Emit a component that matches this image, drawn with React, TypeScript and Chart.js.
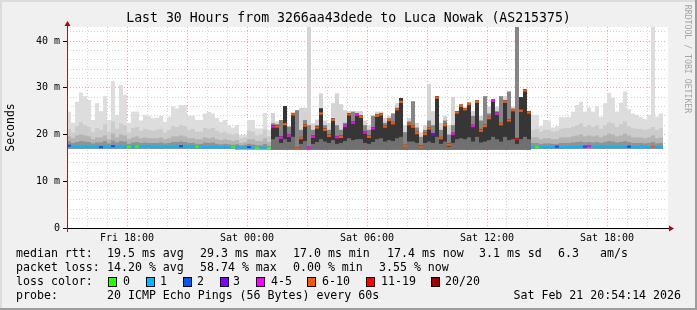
import { useEffect, useRef } from 'react';
import { Chart, registerables } from 'chart.js';

Chart.register(...registerables);

const TITLE = 'Last 30 Hours from 3266aa43dede to Luca Nowak (AS215375)';
const Y_TITLE = 'Seconds';
const WATERMARK = 'RRDTOOL / TOBI OETIKER';

// 12-minute steps, first step starts Fri 15:00
const BIN_HOURS = 0.2;
const X_MAX_HOURS = 30;
const Y_MAX_MS = 43;

const xTickHours = [3, 9, 15, 21, 27];
const xTickLabels = ['Fri 18:00', 'Sat 00:00', 'Sat 06:00', 'Sat 12:00', 'Sat 18:00'];
const yTickValues = [0, 10, 20, 30, 40];
const yTickLabels = ['0', '10 m', '20 m', '30 m', '40 m'];

const medianMs = [
  17.6, 17.4, 17.4, 17.4, 17.4, 17.4, 17.4, 17.4, 17.3, 17.4,
  17.4, 17.5, 17.4, 17.4, 17.4, 17.3, 17.4, 17.4, 17.4, 17.4,
  17.5, 17.4, 17.4, 17.4, 17.4, 17.4, 17.4, 17.4, 17.5, 17.4,
  17.4, 17.4, 17.4, 17.4, 17.3, 17.3, 17.4, 17.3, 17.3, 17.3,
  17.3, 17.3, 17.2, 17.2, 17.2, 17.3, 17.1, 17.1, 17.1, 17.1,
  17.1,
  21.7, 21.7, 19.3, 22.2, 19.7, 24.3, 17.0, 19.2, 21.9, 17.1,
  19.5, 21.5, 24.5, 21.0, 19.7, 23.1, 19.4, 19.5, 21.8, 24.3,
  22.5, 24.2, 23.8, 20.4, 19.5, 21.3, 24.0, 24.3, 21.7, 23.1,
  22.4, 25.4, 27.0, 17.5, 22.2, 21.7, 20.3, 17.4, 20.1, 21.3,
  20.0, 27.9, 19.2, 22.0, 17.8, 20.1, 24.7, 26.1, 25.4, 26.5,
  21.8, 27.0, 20.8, 21.8, 23.5, 27.2, 24.4, 22.2, 27.0, 23.0,
  25.2, 19.0, 25.1, 29.4, 24.7,
  17.3, 17.3, 17.3, 17.3, 17.3, 17.3, 17.4, 17.3, 17.3, 17.3,
  17.3, 17.4, 17.4, 17.4, 17.5, 17.4, 17.4, 17.4, 17.4, 17.4,
  17.4, 17.4, 17.4, 17.4, 17.4, 17.3, 17.3, 17.4, 17.3, 17.3,
  17.4, 17.3, 17.3,
];

const lossCount = [
  2, 1, 1, 1, 1, 1, 1, 1, 2, 1,
  1, 2, 1, 1, 1, 0, 1, 0, 1, 1,
  1, 1, 1, 1, 1, 1, 1, 1, 2, 1,
  1, 1, 0, 1, 1, 1, 1, 1, 1, 1,
  1, 0, 1, 1, 1, 2, 1, 0, 1, 1,
  0,
  4, 8, 4, 8, 4, 8, 8, 8, 8, 4,
  4, 8, 8, 8, 8, 8, 4, 8, 4, 8,
  4, 4, 8, 4, 8, 4, 8, 8, 8, 8,
  8, 8, 8, 8, 8, 8, 8, 8, 8, 8,
  3, 8, 8, 8, 8, 4, 8, 8, 8, 8,
  4, 8, 8, 8, 8, 4, 4, 8, 8, 8,
  8, 12, 8, 8, 8,
  1, 0, 1, 1, 1, 1, 2, 1, 1, 1,
  1, 1, 1, 2, 4, 1, 1, 1, 1, 1,
  1, 1, 1, 1, 2, 1, 1, 1, 1, 1,
  8, 1, 1,
];

const maxMs = [
  24.9, 22.5, 27.0, 29.0, 28.2, 27.4, 23.1, 26.7, 25.0, 28.2,
  23.1, 31.4, 24.2, 30.6, 28.5, 22.5, 24.9, 24.9, 23.0, 24.2,
  24.0, 23.5, 23.6, 24.0, 22.7, 23.8, 26.0, 25.6, 26.3, 26.3,
  24.0, 24.0, 23.1, 23.1, 24.5, 24.8, 24.5, 23.5, 22.7, 23.1,
  22.0, 21.5, 22.0, 19.9, 19.9, 23.1, 23.1, 21.3, 21.3, 24.6,
  21.0,
  24.6, 22.8, 23.1, 26.1, 21.7, 24.8, 25.2, 25.7, 25.7, 43.5,
  22.4, 23.2, 28.8, 23.0, 22.5, 26.7, 28.8, 26.5, 25.2, 25.0,
  24.9, 25.0, 25.0, 23.0, 22.0, 24.0, 24.9, 24.9, 23.5, 24.0,
  24.5, 26.7, 27.8, 22.0, 23.5, 27.1, 22.5, 20.5, 22.0, 30.8,
  25.0, 28.2, 22.5, 24.0, 22.0, 28.0, 25.0, 26.4, 25.7, 26.8,
  25.0, 27.3, 24.0, 28.2, 26.0, 27.5, 26.0, 28.2, 28.2, 29.2,
  26.0, 43.5, 28.0, 29.7, 25.0,
  24.2, 24.2, 21.8, 23.1, 23.0, 21.5, 21.8, 23.7, 23.7, 23.8,
  24.9, 26.3, 27.0, 24.9, 25.8, 24.9, 26.1, 23.8, 26.7, 28.9,
  27.9, 24.9, 26.8, 29.2, 25.4, 24.5, 24.2, 23.8, 23.3, 24.2,
  43.5, 23.8, 24.5,
];

const upperMs = [
  21.2, 20.4, 21.8, 22.6, 22.0, 21.6, 20.6, 21.4, 21.0, 22.2,
  20.6, 22.8, 21.2, 22.4, 22.0, 20.4, 21.4, 21.6, 20.8, 21.2,
  21.0, 20.8, 21.0, 21.2, 20.4, 21.0, 21.8, 21.6, 22.0, 21.8,
  21.0, 21.2, 20.6, 20.6, 21.4, 21.2, 21.4, 20.8, 20.4, 20.6,
  20.2, 20.0, 20.2, 19.2, 19.4, 20.8, 20.6, 19.8, 20.0, 21.0,
  19.6,
  22.4, 22.2, 23.1, 24.0, 21.7, 24.5, 25.2, 21.0, 23.1, 22.0,
  21.0, 22.0, 25.6, 22.0, 21.0, 23.5, 22.0, 21.0, 22.5, 24.6,
  24.9, 24.5, 24.1, 22.0, 21.0, 24.0, 24.3, 24.6, 22.5, 23.4,
  24.5, 25.7, 27.8, 20.5, 22.8, 27.1, 21.5, 19.5, 21.0, 23.0,
  22.0, 28.2, 21.0, 23.0, 20.0, 22.0, 25.0, 26.4, 25.7, 26.8,
  24.0, 27.3, 23.0, 28.2, 24.5, 27.5, 25.0, 28.2, 27.3, 29.2,
  25.5, 43.5, 28.0, 29.7, 25.0,
  21.0, 21.2, 20.6, 21.0, 21.0, 20.6, 20.8, 21.2, 21.4, 21.4,
  21.6, 22.0, 22.4, 21.6, 22.0, 21.6, 22.0, 21.2, 22.0, 22.6,
  22.4, 21.6, 22.2, 22.8, 21.8, 21.4, 21.2, 21.2, 21.0, 21.2,
  21.6, 21.0, 21.4,
];

const midMs = [
  19.6, 19.2, 19.8, 20.0, 19.8, 19.6, 19.0, 19.4, 19.4, 19.8,
  19.0, 20.2, 19.4, 20.0, 19.8, 19.0, 19.4, 19.6, 19.2, 19.4,
  19.2, 19.2, 19.2, 19.4, 19.0, 19.2, 19.6, 19.6, 19.8, 19.6,
  19.2, 19.2, 19.0, 19.0, 19.4, 19.2, 19.4, 19.0, 18.8, 19.0,
  18.8, 18.6, 18.8, 18.2, 18.4, 19.0, 19.0, 18.6, 18.6, 19.2,
  18.4,
  22.0, 22.0, 19.6, 26.1, 20.0, 24.5, 17.3, 19.5, 22.2, 17.4,
  19.8, 21.8, 25.6, 21.3, 20.0, 23.4, 19.7, 19.8, 22.1, 24.6,
  22.8, 24.5, 24.1, 20.7, 19.8, 21.6, 24.3, 24.6, 22.0, 23.4,
  22.7, 25.7, 27.8, 17.8, 22.5, 22.0, 20.6, 17.7, 20.4, 21.6,
  20.3, 28.2, 19.5, 22.3, 18.1, 20.4, 25.0, 26.4, 25.7, 26.8,
  22.1, 27.3, 21.1, 22.1, 23.8, 27.5, 24.7, 22.5, 27.3, 23.3,
  25.5, 19.3, 28.0, 29.7, 25.0,
  19.4, 19.4, 19.0, 19.2, 19.2, 19.0, 19.0, 19.4, 19.4, 19.4,
  19.6, 19.8, 20.0, 19.6, 19.8, 19.6, 19.8, 19.4, 19.8, 20.2,
  20.0, 19.6, 19.8, 20.2, 19.8, 19.4, 19.4, 19.4, 19.2, 19.4,
  19.8, 19.2, 19.4,
];

const innerMs = [
  18.6, 18.2, 18.4, 18.6, 18.5, 18.4, 18.1, 18.3, 18.3, 18.6,
  18.1, 18.7, 18.3, 18.6, 18.5, 18.0, 18.3, 18.4, 18.2, 18.3,
  18.2, 18.2, 18.2, 18.3, 18.1, 18.2, 18.4, 18.4, 18.5, 18.4,
  18.2, 18.2, 18.0, 18.0, 18.3, 18.2, 18.3, 18.0, 17.9, 18.0,
  17.9, 17.8, 17.9, 17.7, 17.8, 18.0, 17.9, 17.7, 17.7, 18.0,
  17.6,
  19.0, 19.5, 18.2, 19.0, 18.4, 19.5, 17.2, 18.0, 18.6, 17.2,
  18.0, 18.4, 19.0, 18.5, 18.2, 18.8, 18.0, 18.2, 18.6, 19.2,
  18.8, 19.0, 19.0, 18.2, 18.0, 18.4, 19.0, 19.2, 18.5, 18.8,
  18.6, 19.2, 19.5, 17.3, 18.5, 18.5, 18.2, 17.3, 18.2, 18.5,
  18.2, 19.5, 18.0, 18.5, 17.4, 18.2, 19.0, 19.2, 19.0, 19.4,
  18.5, 19.5, 18.3, 18.5, 18.8, 19.5, 19.0, 18.5, 19.5, 18.8,
  19.0, 18.0, 19.0, 19.5, 19.0,
  18.2, 18.2, 18.0, 18.1, 18.1, 18.0, 18.0, 18.2, 18.2, 18.2,
  18.3, 18.4, 18.5, 18.3, 18.4, 18.3, 18.4, 18.2, 18.4, 18.6,
  18.5, 18.3, 18.4, 18.6, 18.4, 18.2, 18.2, 18.2, 18.1, 18.2,
  18.4, 18.1, 18.2,
];

const minMs = [
  16.9, 16.9, 16.9, 16.9, 16.9, 16.9, 16.9, 16.9, 16.9, 16.9,
  16.9, 16.9, 16.9, 16.9, 16.9, 16.9, 16.9, 16.9, 16.9, 16.9,
  16.9, 16.9, 16.9, 16.9, 16.9, 16.9, 16.9, 16.9, 16.9, 16.9,
  16.9, 16.9, 16.9, 16.9, 16.9, 16.9, 16.9, 16.9, 16.9, 16.9,
  16.9, 16.9, 16.8, 16.8, 16.8, 16.8, 16.8, 16.8, 16.8, 16.8,
  16.8,
  16.8, 16.8, 16.8, 16.8, 16.8, 16.8, 16.8, 16.8, 16.8, 16.8,
  16.8, 16.8, 16.8, 16.8, 16.8, 16.8, 16.8, 16.8, 16.8, 16.8,
  16.8, 16.8, 16.8, 16.8, 16.8, 16.8, 16.8, 16.8, 16.8, 16.8,
  16.8, 16.8, 16.8, 16.8, 16.8, 16.8, 16.8, 16.8, 16.8, 16.8,
  16.8, 16.8, 16.8, 16.8, 16.8, 16.8, 16.8, 16.8, 16.8, 16.8,
  16.8, 16.8, 16.8, 16.8, 16.8, 16.8, 16.8, 16.8, 16.8, 16.8,
  16.8, 16.8, 16.8, 16.8, 16.8,
  16.9, 16.9, 16.9, 16.9, 16.9, 16.9, 16.9, 16.9, 16.9, 16.9,
  16.9, 16.9, 16.9, 16.9, 16.9, 16.9, 16.9, 16.9, 16.9, 16.9,
  16.9, 16.9, 16.9, 16.9, 16.9, 16.9, 16.9, 16.9, 16.9, 16.9,
  16.9, 16.9, 16.9,
];

// bins with heavy loss (drawn with the dark smoke palette)
const LOSSY_FIRST = 51;
const LOSSY_LAST = 115;

const lossBucketLabels = ['0', '1', '2', '3', '4-5', '6-10', '11-19', '20/20'];
const lossBucketMax = [0, 1, 2, 3, 5, 10, 19, 20];
const lossBucketColors = ['#26ff00', '#00b8ff', '#0059ff', '#7e00ff', '#ff00ff', '#ff5500', '#ff0000', '#a10000'];

const rttStats = ['19.5 ms avg', '29.3 ms max', '17.0 ms min', '17.4 ms now', '3.1 ms sd', '6.3', 'am/s'];
const lossStats = ['14.20 % avg', '58.74 % max', '0.00 % min', '3.55 % now'];
const probeText = '20 ICMP Echo Pings (56 Bytes) every 60s';
const stampText = 'Sat Feb 21 20:54:14 2026';

// ---- styling / layout ----
const W = 697;
const H = 310;
const MONO = '"DejaVu Sans Mono", monospace';
const MARK_HALF_MS = 0.24;
const rttX = [107, 200, 293, 387, 479, 558, 600];
const lossX = [107, 200, 293, 379];
const boxX = [108, 146, 183, 220, 256, 307, 366, 431];
const boxLabelX = [123, 160, 197, 233, 271, 322, 381, 445];
const rowY = [254, 268, 282, 296];

const lossColor = (n: number) => {
  for (let k = 0; k < lossBucketMax.length; k++) if (n <= lossBucketMax[k]) return lossBucketColors[k];
  return lossBucketColors[lossBucketColors.length - 1];
};

const hours = medianMs.map((_, i) => i * BIN_HOURS + BIN_HOURS / 2);
const isLossy = (i: number) => i >= LOSSY_FIRST && i <= LOSSY_LAST;

const barBase = {
  type: 'bar' as const,
  grouped: false,
  categoryPercentage: 1,
  barPercentage: 1,
  borderWidth: 0,
  inflateAmount: 0,
};

function band(top: number[], quiet: string, lossy: string) {
  return {
    ...barBase,
    data: hours.map((x, i) => ({ x, y: [minMs[i], top[i]] })),
    backgroundColor: hours.map((_, i) => (isLossy(i) ? lossy : quiet)),
  };
}

const overlay = {
  id: 'rrdOverlay',
  beforeDraw(chart: any) {
    const { ctx, chartArea: a } = chart;
    ctx.save();
    ctx.fillStyle = '#f0f0f0';
    ctx.fillRect(0, 0, W, H);
    ctx.fillStyle = '#dcdcdc';
    ctx.fillRect(0, 0, W, 2);
    ctx.fillRect(0, 0, 2, H);
    ctx.fillStyle = '#9c9c9c';
    ctx.fillRect(0, H - 2, W, 2);
    ctx.fillRect(W - 2, 0, 2, H);
    ctx.fillStyle = '#ffffff';
    ctx.fillRect(a.left, a.top, a.right - a.left + 1, a.bottom - a.top);
    ctx.restore();
  },
  afterDraw(chart: any) {
    const { ctx, chartArea: a } = chart;
    ctx.save();
    // axes
    ctx.fillStyle = '#000000';
    ctx.fillRect(a.left - 4, a.bottom, a.right - a.left + 6, 1);
    ctx.fillStyle = '#6a3030';
    ctx.fillRect(a.left, a.top - 4, 1, a.bottom - a.top + 8);
    // arrows
    ctx.fillStyle = '#9a1010';
    ctx.beginPath();
    ctx.moveTo(a.left + 0.5, a.top - 6);
    ctx.lineTo(a.left + 3.5, a.top - 1);
    ctx.lineTo(a.left - 2.5, a.top - 1);
    ctx.closePath();
    ctx.fill();
    ctx.beginPath();
    ctx.moveTo(a.right + 7, a.bottom + 0.5);
    ctx.lineTo(a.right + 2, a.bottom + 3.5);
    ctx.lineTo(a.right + 2, a.bottom - 2.5);
    ctx.closePath();
    ctx.fill();

    // title
    ctx.fillStyle = '#000000';
    ctx.textBaseline = 'middle';
    ctx.textAlign = 'center';
    ctx.font = `13.2px ${MONO}`;
    ctx.fillText(TITLE, W / 2, 19);

    // y title
    ctx.save();
    ctx.translate(11, (a.top + a.bottom) / 2);
    ctx.rotate(-Math.PI / 2);
    ctx.font = `11.5px ${MONO}`;
    ctx.fillText(Y_TITLE, 0, 0);
    ctx.restore();

    // watermark
    ctx.save();
    ctx.translate(687.5, 59);
    ctx.rotate(Math.PI / 2);
    ctx.font = `8.2px ${MONO}`;
    ctx.fillStyle = '#a4a4a4';
    ctx.fillText(WATERMARK, 0, 0);
    ctx.restore();

    // legend
    ctx.textAlign = 'left';
    ctx.fillStyle = '#000000';
    ctx.font = `11.6px ${MONO}`;
    ctx.fillText('median rtt:', 16, rowY[0]);
    rttStats.forEach((s, k) => ctx.fillText(s, rttX[k], rowY[0]));
    ctx.fillText('packet loss:', 16, rowY[1]);
    lossStats.forEach((s, k) => ctx.fillText(s, lossX[k], rowY[1]));
    ctx.fillText('loss color:', 16, rowY[2]);
    lossBucketLabels.forEach((s, k) => {
      ctx.fillStyle = '#000000';
      ctx.fillRect(boxX[k], rowY[2] - 5, 9, 10);
      ctx.fillStyle = lossBucketColors[k];
      ctx.fillRect(boxX[k] + 1, rowY[2] - 4, 7, 8);
      ctx.fillStyle = '#000000';
      ctx.fillText(s, boxLabelX[k], rowY[2]);
    });
    ctx.fillText('probe:', 16, rowY[3]);
    ctx.fillText(probeText, 107, rowY[3]);
    ctx.textAlign = 'right';
    ctx.fillText(stampText, 681, rowY[3]);
    ctx.restore();
  },
};

const majorGrid = 'rgba(235, 60, 60, 0.45)';
const minorGrid = 'rgba(120, 120, 120, 0.32)';

export default function App() {
  const ref = useRef<HTMLCanvasElement>(null);
  useEffect(() => {
    document.body.style.margin = '0';
    const canvas = ref.current;
    if (!canvas) return;
    const chart = new Chart(canvas, {
      type: 'bar',
      data: {
        datasets: [
          {
            ...barBase,
            data: hours.map((x, i) => ({ x, y: [medianMs[i] - MARK_HALF_MS, medianMs[i] + MARK_HALF_MS] })),
            backgroundColor: lossCount.map(lossColor),
          },
          band(innerMs, '#929292', '#707070'),
          band(midMs, '#b4b4b4', '#363636'),
          band(upperMs, '#cccccc', '#858585'),
          band(maxMs, '#dddddd', '#d4d4d4'),
        ] as any,
      },
      options: {
        responsive: false,
        devicePixelRatio: 1,
        animation: false,
        events: [],
        layout: { padding: { left: 0, right: 30, top: 27, bottom: 0 } },
        plugins: {
          legend: { display: false },
          tooltip: { enabled: false },
          title: { display: false },
        },
        scales: {
          x: {
            type: 'linear',
            min: 0,
            max: X_MAX_HOURS,
            offset: false,
            z: 1,
            afterFit: (s: any) => { s.height = 82; },
            ticks: {
              stepSize: 1,
              autoSkip: false,
              maxRotation: 0,
              includeBounds: false,
              padding: 4,
              color: '#000000',
              font: { family: MONO, size: 10 },
              callback: (v: any) => {
                const k = xTickHours.indexOf(Number(v));
                return k >= 0 ? xTickLabels[k] : '';
              },
            },
            grid: {
              offset: false,
              drawTicks: false,
              color: (c: any) => {
                const v = c.tick ? c.tick.value : -1;
                if (v <= 0 || v >= X_MAX_HOURS) return 'transparent';
                return v % 3 === 0 ? majorGrid : minorGrid;
              },
            },
            border: { display: false, dash: [1, 2] },
          },
          y: {
            type: 'linear',
            min: 0,
            max: Y_MAX_MS,
            z: 1,
            afterFit: (s: any) => { s.width = 67; },
            ticks: {
              stepSize: 2,
              autoSkip: false,
              includeBounds: false,
              padding: 3,
              color: '#000000',
              font: { family: MONO, size: 10 },
              callback: (v: any) => {
                const k = yTickValues.indexOf(Number(v));
                return k >= 0 ? yTickLabels[k] : '';
              },
            },
            grid: {
              tickLength: 4,
              color: (c: any) => {
                const v = c.tick ? c.tick.value : -1;
                if (v <= 0) return 'transparent';
                return v % 10 === 0 ? majorGrid : minorGrid;
              },
              tickColor: (c: any) => {
                const v = c.tick ? c.tick.value : -1;
                return v % 10 === 0 ? '#000000' : 'transparent';
              },
            },
            border: { display: false, dash: [1, 2] },
          },
        },
      } as any,
      plugins: [overlay],
    });
    return () => chart.destroy();
  }, []);
  return (
    <div style={{ width: W, height: H }}>
      <canvas ref={ref} width={W} height={H} style={{ display: 'block' }} />
    </div>
  );
}
